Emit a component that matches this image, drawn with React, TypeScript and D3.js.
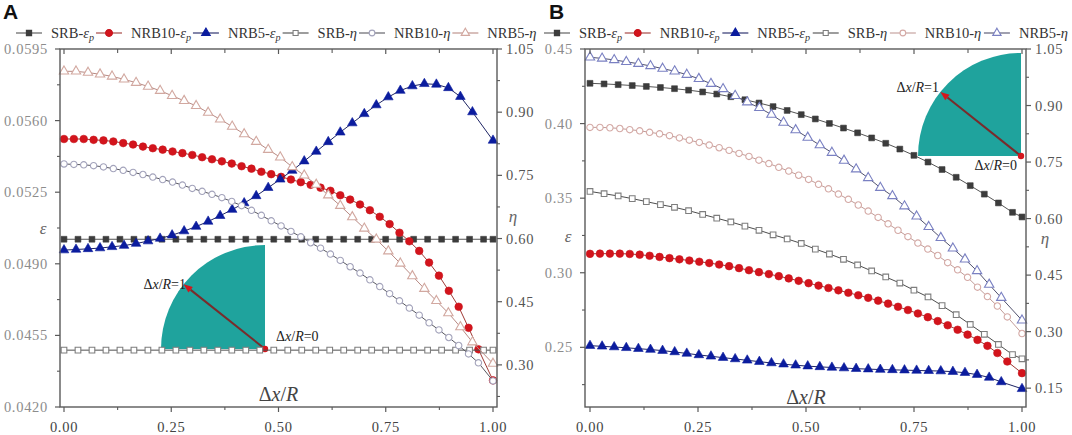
import React from 'react';
import * as d3 from 'd3';

const W = 1072;
const H = 435;

// ---- sampling grids of Δx/R (uniform samples, plus the end point 1.0) ----
const SQ_STEP = 0.0326;
const SQ_N = 31;
const CIR_STEP = 0.023;
const CIR_N = 43;
const TRI_STEP = 0.028;
const TRI_N = 35;
const grid = (step: number, n: number) => [...d3.range(n).map((i) => +(i * step).toFixed(4)), 1];
const X_SQ = grid(SQ_STEP, SQ_N);
const X_CIR = grid(CIR_STEP, CIR_N);
const X_TRI = grid(TRI_STEP, TRI_N);

// ---- axis ticks ----
const X_TICKS = [0, 0.25, 0.5, 0.75, 1];
const X_TICK_LABELS = ['0.00', '0.25', '0.50', '0.75', '1.00'];
const X_MINOR = [0.125, 0.375, 0.625, 0.875];

const A_LEFT_TICKS = [0.042, 0.0455, 0.049, 0.0525, 0.056, 0.0595];
const A_LEFT_LABELS = ['0.0420', '0.0455', '0.0490', '0.0525', '0.0560', '0.0595'];
const A_LEFT_MINOR = [0.04375, 0.04725, 0.05075, 0.05425, 0.05775];
const A_RIGHT_TICKS = [0.3, 0.45, 0.6, 0.75, 0.9, 1.05];
const A_RIGHT_LABELS = ['0.30', '0.45', '0.60', '0.75', '0.90', '1.05'];
const A_RIGHT_MINOR = [0.225, 0.375, 0.525, 0.675, 0.825, 0.975];

const B_LEFT_TICKS = [0.25, 0.3, 0.35, 0.4, 0.45];
const B_LEFT_LABELS = ['0.25', '0.30', '0.35', '0.40', '0.45'];
const B_LEFT_MINOR = [0.225, 0.275, 0.325, 0.375, 0.425];
const B_RIGHT_TICKS = [0.15, 0.3, 0.45, 0.6, 0.75, 0.9, 1.05];
const B_RIGHT_LABELS = ['0.15', '0.30', '0.45', '0.60', '0.75', '0.90', '1.05'];
const B_RIGHT_MINOR = [0.225, 0.375, 0.525, 0.675, 0.825, 0.975];

// ---- panel A data ----
const A_SRB_EPS = [
  0.0502, 0.0502, 0.0502, 0.0502, 0.0502, 0.0502, 0.0502, 0.0502, 0.0502, 0.0502, 0.0502,
  0.0502, 0.0502, 0.0502, 0.0502, 0.0502, 0.0502, 0.0502, 0.0502, 0.0502, 0.0502, 0.0502,
  0.0502, 0.0502, 0.0502, 0.0502, 0.0502, 0.0502, 0.0502, 0.0502, 0.0502, 0.0502,
];
const A_NRB10_EPS = [
  0.0551, 0.0551, 0.0551, 0.05506, 0.05503, 0.05498, 0.0549, 0.05483, 0.05473, 0.05465, 0.05458,
  0.05449, 0.05441, 0.05432, 0.05421, 0.05411, 0.05401, 0.0539, 0.05377, 0.05365, 0.0535, 0.05338,
  0.05325, 0.05312, 0.05299, 0.05286, 0.05272, 0.05257, 0.05235, 0.05214, 0.0519, 0.05162, 0.0513,
  0.05094, 0.05052, 0.0501, 0.04963, 0.04906, 0.04842, 0.04768, 0.0469, 0.04587, 0.04482, 0.0433,
];
const A_NRB5_EPS = [
  0.04967, 0.0497, 0.04973, 0.04977, 0.04983, 0.04989, 0.04999, 0.05011, 0.05024, 0.0504, 0.0506,
  0.05082, 0.05107, 0.05135, 0.05165, 0.05197, 0.05232, 0.05272, 0.05313, 0.05356, 0.05402, 0.05449,
  0.05496, 0.05543, 0.05588, 0.05633, 0.05676, 0.05715, 0.05747, 0.05769, 0.0578, 0.05777, 0.0576,
  0.05717, 0.05642, 0.05503,
];
const A_SRB_ETA = [
  0.335, 0.335, 0.335, 0.335, 0.335, 0.335, 0.335, 0.335, 0.335, 0.335, 0.335, 0.335, 0.335,
  0.335, 0.335, 0.335, 0.335, 0.335, 0.335, 0.335, 0.335, 0.335, 0.335, 0.335, 0.335, 0.335,
  0.335, 0.335, 0.335, 0.335, 0.335, 0.335,
];
const A_NRB10_ETA = [
  0.777, 0.776, 0.775, 0.773, 0.77, 0.766, 0.762, 0.757, 0.752, 0.746, 0.74, 0.734, 0.727, 0.719,
  0.712, 0.705, 0.697, 0.688, 0.678, 0.667, 0.655, 0.642, 0.63, 0.617, 0.604, 0.59, 0.577, 0.563,
  0.548, 0.533, 0.518, 0.502, 0.486, 0.469, 0.452, 0.435, 0.418, 0.4, 0.383, 0.365, 0.346, 0.326,
  0.305, 0.262,
];
const A_NRB5_ETA = [
  0.997, 0.997, 0.994, 0.99, 0.985, 0.978, 0.97, 0.961, 0.951, 0.939, 0.927, 0.915, 0.899, 0.883,
  0.866, 0.848, 0.83, 0.811, 0.793, 0.77, 0.75, 0.728, 0.703, 0.678, 0.651, 0.624, 0.598, 0.57,
  0.541, 0.511, 0.481, 0.452, 0.423, 0.39, 0.354, 0.303,
];

// ---- panel B data ----
const B_SRB_EPS = [
  0.427, 0.4266, 0.4261, 0.4255, 0.4249, 0.4242, 0.4234, 0.4224, 0.4212, 0.4198, 0.418, 0.416,
  0.4138, 0.4114, 0.4088, 0.406, 0.4031, 0.4001, 0.397, 0.3938, 0.3904, 0.3868, 0.3829, 0.3787,
  0.3742, 0.3692, 0.364, 0.3584, 0.3527, 0.3468, 0.3405, 0.3374,
];
const B_NRB10_EPS = [
  0.3127, 0.3128, 0.3128, 0.3128, 0.3126, 0.3121, 0.3114, 0.3106, 0.3098, 0.309, 0.3082, 0.3074,
  0.3065, 0.3055, 0.3044, 0.3031, 0.3017, 0.3004, 0.2991, 0.2977, 0.2962, 0.2946, 0.293, 0.2914,
  0.2898, 0.2882, 0.2866, 0.2849, 0.2832, 0.2813, 0.2793, 0.2772, 0.275, 0.2727, 0.2702, 0.2676,
  0.2648, 0.2618, 0.2585, 0.255, 0.251, 0.2462, 0.2405, 0.2327,
];
const B_NRB5_EPS = [
  0.2511, 0.2507, 0.2502, 0.2497, 0.2491, 0.2485, 0.2478, 0.2469, 0.2459, 0.2449, 0.244, 0.2431,
  0.2422, 0.2413, 0.2404, 0.2395, 0.2387, 0.238, 0.2374, 0.2369, 0.2365, 0.2361, 0.2357, 0.2354,
  0.2351, 0.2349, 0.2347, 0.2345, 0.2343, 0.2341, 0.2337, 0.233, 0.2317, 0.2298, 0.2268, 0.2222,
];
const B_SRB_ETA = [
  0.672, 0.666, 0.66, 0.653, 0.645, 0.637, 0.63, 0.621, 0.611, 0.601, 0.591, 0.58, 0.569, 0.557,
  0.546, 0.534, 0.519, 0.506, 0.492, 0.477, 0.461, 0.445, 0.429, 0.41, 0.392, 0.369, 0.345, 0.319,
  0.293, 0.266, 0.239, 0.228,
];
const B_NRB10_ETA = [
  0.842, 0.842, 0.841, 0.839, 0.836, 0.833, 0.829, 0.825, 0.82, 0.814, 0.808, 0.802, 0.795, 0.788,
  0.781, 0.773, 0.765, 0.755, 0.746, 0.736, 0.726, 0.715, 0.704, 0.691, 0.679, 0.665, 0.651, 0.636,
  0.62, 0.603, 0.586, 0.569, 0.552, 0.535, 0.519, 0.502, 0.483, 0.464, 0.444, 0.418, 0.393, 0.368,
  0.339, 0.295,
];
const B_NRB5_ETA = [
  1.028, 1.025, 1.021, 1.016, 1.011, 1.005, 0.998, 0.991, 0.982, 0.971, 0.958, 0.944, 0.926, 0.909,
  0.894, 0.876, 0.855, 0.835, 0.815, 0.795, 0.775, 0.754, 0.731, 0.708, 0.682, 0.66, 0.633, 0.606,
  0.578, 0.549, 0.521, 0.492, 0.461, 0.425, 0.39, 0.33,
];

const SERIES_NAMES = ['SRB-', 'NRB10-', 'NRB5-', 'SRB-', 'NRB10-', 'NRB5-'];

const SERIF = '"Liberation Serif", "DejaVu Serif", "Times New Roman", serif';

type Style = {
  symbol: d3.SymbolType;
  size: number;
  fill: string;
  stroke: string;
  line: string;
};

const ST_SQ_F: Style = { symbol: d3.symbolSquare, size: 34, fill: '#3c3c3c', stroke: '#3c3c3c', line: '#555555' };
const ST_DOT: Style = { symbol: d3.symbolCircle, size: 46, fill: '#d3141c', stroke: '#c8141c', line: '#a03a36' };
const ST_TRI_F: Style = { symbol: d3.symbolTriangle, size: 40, fill: '#0b1c9e', stroke: '#0b1c9e', line: '#1e2464' };
const ST_SQ_O: Style = { symbol: d3.symbolSquare, size: 32, fill: '#ffffff', stroke: '#7e7e7e', line: '#4e4e4e' };
const A_ST_CIR_O: Style = { symbol: d3.symbolCircle, size: 32, fill: '#ffffff', stroke: '#a3a3bb', line: '#585860' };
const A_ST_TRI_O: Style = { symbol: d3.symbolTriangle, size: 38, fill: '#ffffff', stroke: '#d2a8a0', line: '#b88a84' };
const B_ST_CIR_O: Style = { symbol: d3.symbolCircle, size: 32, fill: '#ffffff', stroke: '#d4a9a5', line: '#c29c98' };
const B_ST_TRI_O: Style = { symbol: d3.symbolTriangle, size: 38, fill: '#ffffff', stroke: '#7a80c2', line: '#52526e' };

type Series = { name: string; eps: boolean; xs: number[]; ys: number[]; style: Style; axis: 'L' | 'R' };

type PanelCfg = {
  letter: string;
  letterX: number;
  frame: { x0: number; x1: number; y0: number; y1: number };
  xRange: [number, number];
  leftDomain: [number, number];
  rightDomain: [number, number];
  leftTicks: number[];
  leftLabels: string[];
  leftMinor: number[];
  rightTicks: number[];
  rightLabels: string[];
  rightMinor: number[];
  series: Series[];
  legend: [number, number];
  epsPos: [number, number];
  etaPos: [number, number];
  titleBase: number;
  inset: { cx: number; cy: number; r: number; ang: number; l1: [number, number]; l0: [number, number]; l0Anchor: string };
};

const PANEL_A: PanelCfg = {
  letter: 'A',
  letterX: 3,
  frame: { x0: 60, x1: 497, y0: 49, y1: 407 },
  xRange: [64, 493],
  leftDomain: [0.042, 0.0595],
  rightDomain: [0.2, 1.05],
  leftTicks: A_LEFT_TICKS,
  leftLabels: A_LEFT_LABELS,
  leftMinor: A_LEFT_MINOR,
  rightTicks: A_RIGHT_TICKS,
  rightLabels: A_RIGHT_LABELS,
  rightMinor: A_RIGHT_MINOR,
  series: [
    { name: SERIES_NAMES[0], eps: true, xs: X_SQ, ys: A_SRB_EPS, style: ST_SQ_F, axis: 'L' },
    { name: SERIES_NAMES[1], eps: true, xs: X_CIR, ys: A_NRB10_EPS, style: ST_DOT, axis: 'L' },
    { name: SERIES_NAMES[2], eps: true, xs: X_TRI, ys: A_NRB5_EPS, style: ST_TRI_F, axis: 'L' },
    { name: SERIES_NAMES[3], eps: false, xs: X_SQ, ys: A_SRB_ETA, style: ST_SQ_O, axis: 'R' },
    { name: SERIES_NAMES[4], eps: false, xs: X_CIR, ys: A_NRB10_ETA, style: A_ST_CIR_O, axis: 'R' },
    { name: SERIES_NAMES[5], eps: false, xs: X_TRI, ys: A_NRB5_ETA, style: A_ST_TRI_O, axis: 'R' },
  ],
  legend: [16, 536],
  epsPos: [43, 234],
  etaPos: [513, 222],
  titleBase: 401,
  inset: { cx: 265, cy: 349, r: 104, ang: 38.5, l1: [186, 289], l0: [276, 341], l0Anchor: 'start' },
};

const PANEL_B: PanelCfg = {
  letter: 'B',
  letterX: 549,
  frame: { x0: 585, x1: 1026, y0: 49, y1: 407 },
  xRange: [590, 1022],
  leftDomain: [0.21, 0.45],
  rightDomain: [0.1, 1.05],
  leftTicks: B_LEFT_TICKS,
  leftLabels: B_LEFT_LABELS,
  leftMinor: B_LEFT_MINOR,
  rightTicks: B_RIGHT_TICKS,
  rightLabels: B_RIGHT_LABELS,
  rightMinor: B_RIGHT_MINOR,
  series: [
    { name: SERIES_NAMES[0], eps: true, xs: X_SQ, ys: B_SRB_EPS, style: ST_SQ_F, axis: 'L' },
    { name: SERIES_NAMES[1], eps: true, xs: X_CIR, ys: B_NRB10_EPS, style: ST_DOT, axis: 'L' },
    { name: SERIES_NAMES[2], eps: true, xs: X_TRI, ys: B_NRB5_EPS, style: ST_TRI_F, axis: 'L' },
    { name: SERIES_NAMES[3], eps: false, xs: X_SQ, ys: B_SRB_ETA, style: ST_SQ_O, axis: 'R' },
    { name: SERIES_NAMES[4], eps: false, xs: X_CIR, ys: B_NRB10_ETA, style: B_ST_CIR_O, axis: 'R' },
    { name: SERIES_NAMES[5], eps: false, xs: X_TRI, ys: B_NRB5_ETA, style: B_ST_TRI_O, axis: 'R' },
  ],
  legend: [544, 1068],
  epsPos: [568, 242],
  etaPos: [1045, 244],
  titleBase: 404,
  inset: { cx: 1021, cy: 156, r: 103, ang: 38.5, l1: [939, 92], l0: [1017, 170], l0Anchor: 'end' },
};

let ctx: CanvasRenderingContext2D | null = null;
function measure(txt: string, size: number, italic = false) {
  if (!ctx) ctx = document.createElement('canvas').getContext('2d');
  if (!ctx) return txt.length * size * 0.5;
  ctx.font = `${italic ? 'italic ' : ''}${size}px "Liberation Serif", "DejaVu Serif", serif`;
  return ctx.measureText(txt).width;
}

const LEG_FS = 14.5;
const LEG_LINE = 26;
const LEG_PAD = 9;

function DxR({ x, y, size, anchor, suffix, fill }: { x: number; y: number; size: number; anchor: string; suffix?: string; fill: string }) {
  return (
    <text x={x} y={y} fontSize={size} style={{ fontFamily: SERIF }} textAnchor={anchor} fill={fill}>
      <tspan>Δ</tspan>
      <tspan fontStyle="italic">x</tspan>
      <tspan>/</tspan>
      <tspan fontStyle="italic">R</tspan>
      {suffix ? <tspan>{suffix}</tspan> : null}
    </text>
  );
}

function Panel({ cfg }: { cfg: PanelCfg }) {
  const { frame } = cfg;
  const x = d3.scaleLinear().domain([0, 1]).range(cfg.xRange);
  const yL = d3.scaleLinear().domain(cfg.leftDomain).range([frame.y1, frame.y0]);
  const yR = d3.scaleLinear().domain(cfg.rightDomain).range([frame.y1, frame.y0]);

  // legend layout
  const widths = cfg.series.map((s) => {
    const tw = measure(s.name, LEG_FS) + measure(s.eps ? 'ε' : 'η', LEG_FS, true) + (s.eps ? measure('p', LEG_FS * 0.7, true) : 0);
    return { tw, w: LEG_LINE + LEG_PAD + tw };
  });
  const total = widths.reduce((a, b) => a + b.w, 0);
  const gap = Math.max(2, (cfg.legend[1] - cfg.legend[0] - total) / (cfg.series.length - 1));
  let cursor = cfg.legend[0];
  const legY = 33;

  const inset = cfg.inset;
  const rad = (inset.ang * Math.PI) / 180;
  const tipX = inset.cx - inset.r * Math.cos(rad);
  const tipY = inset.cy - inset.r * Math.sin(rad);
  const headLen = 9;
  const hx = tipX + headLen * Math.cos(rad);
  const hy = tipY + headLen * Math.sin(rad);
  const px = -Math.sin(rad) * 3.5;
  const py = Math.cos(rad) * 3.5;

  const tickColorL = '#8c8c8c';
  const tickColorR = '#555555';
  const axisColor = '#5a5a5a';
  const serif = { fontFamily: SERIF };

  return (
    <g>
      <text x={cfg.letterX} y={19} style={{ fontFamily: '"Liberation Sans", Arial, sans-serif' }} fontWeight="bold" fontSize={21} fill="#111">
        {cfg.letter}
      </text>

      {/* legend */}
      {cfg.series.map((s, i) => {
        const x0 = cursor;
        cursor += widths[i].w + gap;
        const sym = d3.symbol().type(s.style.symbol).size(s.style.size * 0.8)();
        return (
          <g key={'leg' + i}>
            <line x1={x0} x2={x0 + LEG_LINE} y1={legY} y2={legY} stroke={s.style.line} strokeWidth={1.1} />
            <path d={sym || ''} transform={`translate(${x0 + LEG_LINE / 2},${legY})`} fill={s.style.fill} stroke={s.style.stroke} strokeWidth={1.1} />
            <text x={x0 + LEG_LINE + LEG_PAD} y={legY + 4.5} fontSize={LEG_FS} style={serif} fill="#333">
              <tspan>{s.name}</tspan>
              <tspan fontStyle="italic">{s.eps ? 'ε' : 'η'}</tspan>
              {s.eps ? (
                <tspan fontStyle="italic" fontSize={LEG_FS * 0.7} dy={3}>
                  p
                </tspan>
              ) : null}
            </text>
          </g>
        );
      })}

      {/* inset */}
      <path
        d={`M${inset.cx},${inset.cy} L${inset.cx},${inset.cy - inset.r} A${inset.r},${inset.r} 0 0 0 ${inset.cx - inset.r},${inset.cy} Z`}
        fill="#1fa39d"
      />
      <line x1={inset.cx} y1={inset.cy} x2={hx} y2={hy} stroke="#7a2b2b" strokeWidth={2} />
      <path d={`M${tipX},${tipY} L${hx + px},${hy + py} L${hx - px},${hy - py} Z`} fill="#d4161c" />
      <circle cx={inset.cx} cy={inset.cy} r={3.2} fill="#d4161c" />
      <DxR x={inset.l1[0]} y={inset.l1[1]} size={14} anchor="end" suffix="=1" fill="#222" />
      <DxR x={inset.l0[0]} y={inset.l0[1]} size={14} anchor={inset.l0Anchor} suffix="=0" fill="#222" />

      {/* series */}
      {cfg.series.map((s, i) => {
        const ys = s.axis === 'L' ? yL : yR;
        const pts = s.xs.map((xv, j) => [x(xv), ys(s.ys[j])] as [number, number]);
        const line = d3.line()(pts) || '';
        const sym = d3.symbol().type(s.style.symbol).size(s.style.size)() || '';
        return (
          <g key={'s' + i}>
            <path d={line} fill="none" stroke={s.style.line} strokeWidth={1} />
            {pts.map((p, j) => (
              <path key={j} d={sym} transform={`translate(${p[0]},${p[1]})`} fill={s.style.fill} stroke={s.style.stroke} strokeWidth={s.style.fill === '#ffffff' ? 1.1 : 0.6} />
            ))}
          </g>
        );
      })}

      {/* frame */}
      <rect x={frame.x0} y={frame.y0} width={frame.x1 - frame.x0} height={frame.y1 - frame.y0} fill="none" stroke={axisColor} strokeWidth={1.4} />

      {/* bottom ticks (outward) + top ticks (inward) */}
      {X_TICKS.map((t, i) => (
        <g key={'xt' + i}>
          <line x1={x(t)} x2={x(t)} y1={frame.y1} y2={frame.y1 + 5} stroke={axisColor} strokeWidth={1.2} />
          <line x1={x(t)} x2={x(t)} y1={frame.y0} y2={frame.y0 + 5} stroke={axisColor} strokeWidth={1.2} />
          <text x={x(t)} y={432} textAnchor="middle" fontSize={14.5} letterSpacing={0.7} style={serif} fill="#444">
            {X_TICK_LABELS[i]}
          </text>
        </g>
      ))}
      {X_MINOR.map((t, i) => (
        <g key={'xm' + i}>
          <line x1={x(t)} x2={x(t)} y1={frame.y1} y2={frame.y1 + 3} stroke={axisColor} strokeWidth={1.1} />
          <line x1={x(t)} x2={x(t)} y1={frame.y0} y2={frame.y0 + 4} stroke={axisColor} strokeWidth={1.1} />
        </g>
      ))}

      {/* left axis */}
      {cfg.leftTicks.map((t, i) => (
        <g key={'lt' + i}>
          <line x1={frame.x0 - 5} x2={frame.x0} y1={yL(t)} y2={yL(t)} stroke={axisColor} strokeWidth={1.2} />
          <text x={frame.x0 - 12} y={yL(t)} dy="0.35em" textAnchor="end" fontSize={14.5} letterSpacing={0.7} style={serif} fill={tickColorL}>
            {cfg.leftLabels[i]}
          </text>
        </g>
      ))}
      {cfg.leftMinor.map((t, i) => (
        <line key={'lm' + i} x1={frame.x0 - 3} x2={frame.x0} y1={yL(t)} y2={yL(t)} stroke={axisColor} strokeWidth={1.1} />
      ))}

      {/* right axis */}
      {cfg.rightTicks.map((t, i) => (
        <g key={'rt' + i}>
          <line x1={frame.x1} x2={frame.x1 + 5} y1={yR(t)} y2={yR(t)} stroke={axisColor} strokeWidth={1.2} />
          <text x={frame.x1 + 9} y={yR(t)} dy="0.35em" textAnchor="start" fontSize={14.5} letterSpacing={0.7} style={serif} fill={tickColorR}>
            {cfg.rightLabels[i]}
          </text>
        </g>
      ))}
      {cfg.rightMinor.map((t, i) => (
        <line key={'rm' + i} x1={frame.x1} x2={frame.x1 + 3} y1={yR(t)} y2={yR(t)} stroke={axisColor} strokeWidth={1.1} />
      ))}

      {/* axis titles */}
      <text x={cfg.epsPos[0]} y={cfg.epsPos[1]} textAnchor="middle" fontStyle="italic" fontSize={17} style={serif} fill="#666">
        ε
      </text>
      <text x={cfg.etaPos[0]} y={cfg.etaPos[1]} textAnchor="middle" fontStyle="italic" fontSize={17} style={serif} fill="#666">
        η
      </text>
      <DxR x={x(0.5)} y={cfg.titleBase} size={20} anchor="middle" fill="#444" />
    </g>
  );
}

export default function App() {
  React.useEffect(() => {
    document.body.style.margin = '0';
  }, []);
  return (
    <svg width={W} height={H} viewBox={`0 0 ${W} ${H}`} style={{ position: 'absolute', left: 0, top: 0, background: '#fff' }}>
      <rect x={0} y={0} width={W} height={H} fill="#ffffff" />
      <Panel cfg={PANEL_A} />
      <Panel cfg={PANEL_B} />
    </svg>
  );
}
